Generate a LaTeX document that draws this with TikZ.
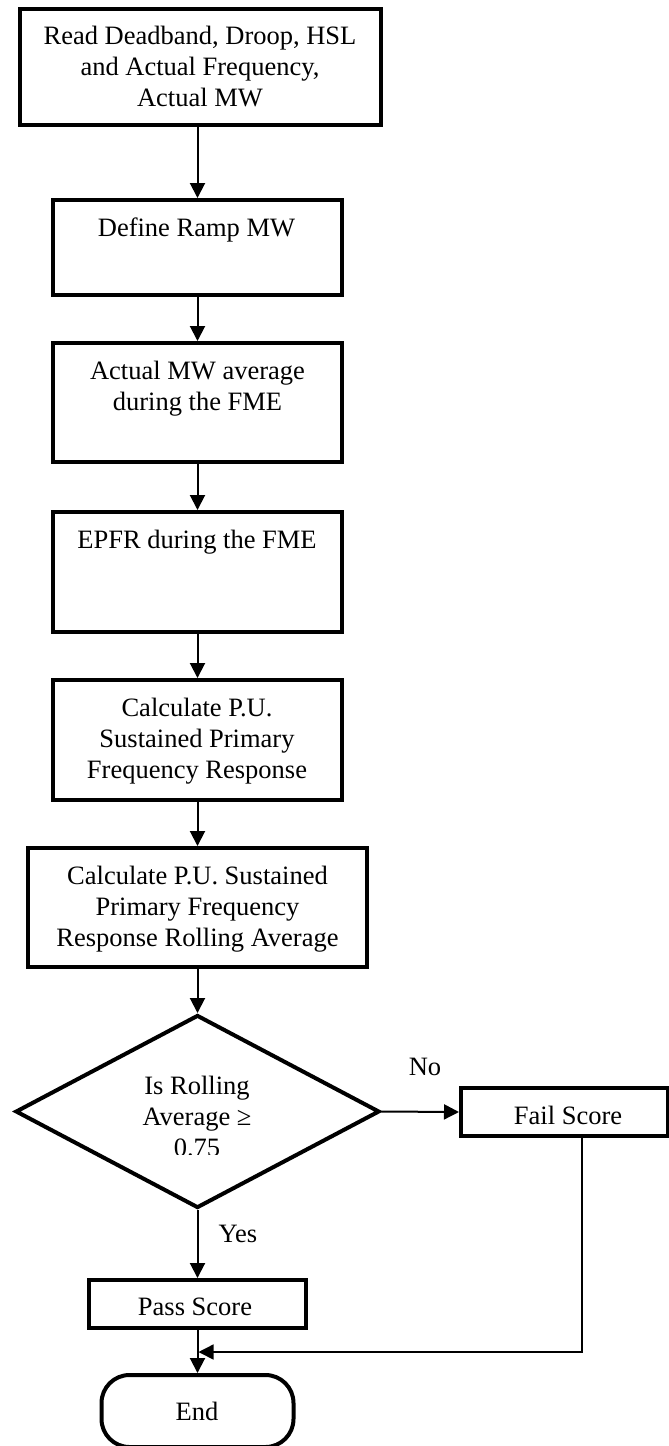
\documentclass[tikz,border=0pt]{standalone}
\usepackage{fontspec}
\setmainfont{Liberation Serif}
\usetikzlibrary{arrows.meta,shapes.geometric}
\begin{document}
\begin{tikzpicture}[x=1pt,y=-1pt,
  stepbox/.style={draw, rectangle, line width=4pt, inner sep=0pt},
  decision/.style={draw, diamond, line width=4pt, inner sep=0pt},
  terminal/.style={draw, rectangle, rounded corners=28pt, line width=4pt, inner sep=0pt},
  txt/.style={align=center, inner sep=0pt, font=\fontsize{26.5}{31}\selectfont},
  arr/.style={line width=2pt, -{Triangle[length=15pt,width=15pt]}},
  thinarr/.style={line width=1.5pt, -{Triangle[length=15pt,width=15pt]}}]
\useasboundingbox (0,0) rectangle (669,1446);

% process boxes of the main column
\node[stepbox, minimum width=361pt, minimum height=116pt] (b1) at (200.5,67) {};
\node[stepbox, minimum width=289pt, minimum height=95pt]  (b2) at (197.5,247.5) {};
\node[stepbox, minimum width=289pt, minimum height=119pt] (b3) at (197.5,402.5) {};
\node[stepbox, minimum width=289pt, minimum height=120pt] (b4) at (197.5,572) {};
\node[stepbox, minimum width=289pt, minimum height=120pt] (b5) at (197.5,740) {};
\node[stepbox, minimum width=339pt, minimum height=119pt] (b6) at (197.5,907.5) {};

\node[txt] (t1) at (200,69) {\strut Read Deadband, Droop, HSL\\\strut and Actual Frequency,\\\strut Actual MW};
\node[txt] (t2) at (196.5,230) {\strut Define Ramp MW};
\node[txt] (t3) at (197.5,389) {\strut Actual MW average\\\strut during the FME};
\node[txt] (t4) at (197,542) {\strut EPFR during the FME};
\node[txt] (t5) at (197,741) {\strut Calculate P.U.\\\strut Sustained Primary\\\strut Frequency Response};
\node[txt] (t6) at (197.5,909) {\strut Calculate P.U. Sustained\\\strut Primary Frequency\\\strut Response Rolling Average};

% decision
\node[decision, minimum width=364pt, minimum height=193pt] (dec) at (197.5,1111.5) {};
\begin{scope}
  \clip (0,0) rectangle (669,1154);
  \node[txt] (tdec) at (197,1119) {\strut Is Rolling\\\strut Average ≥\\\strut 0.75};
\end{scope}

% outcomes
\node[stepbox, minimum width=207pt, minimum height=48pt] (fail) at (564.5,1112) {};
\node[txt] (tfail) at (568,1118) {\strut Fail Score};
\node[stepbox, minimum width=217pt, minimum height=48pt] (pass) at (197.5,1304) {};
\node[txt] (tpass) at (195,1309) {\strut Pass Score};
\node[terminal, minimum width=192pt, minimum height=72pt] (end) at (197.5,1411) {};
\node[txt] (tend) at (197,1414) {\strut End};

% branch labels
\node[txt] (lno) at (425,1069) {\strut No};
\node[txt] (lyes) at (238,1236) {\strut Yes};

% connectors
\draw[arr] (b2.north |- b1.south) -- (b2.north);
\draw[arr] (b2.south) -- (b3.north);
\draw[arr] (b3.south) -- (b4.north);
\draw[arr] (b4.south) -- (b5.north);
\draw[arr] (b5.south) -- (b6.north);
\draw[arr] (b6.south) -- (dec.north);
\draw[arr] (dec.east) -- (fail.west);
\draw[arr] (dec.south) -- (pass.north);
\draw[arr] (pass.south) -- (end.north);
\coordinate (merge) at (pass.south |- 0,1352);
\draw[thinarr] (fail.south -| 582,0) |- ([xshift=1pt]merge);
\end{tikzpicture}
\end{document}
